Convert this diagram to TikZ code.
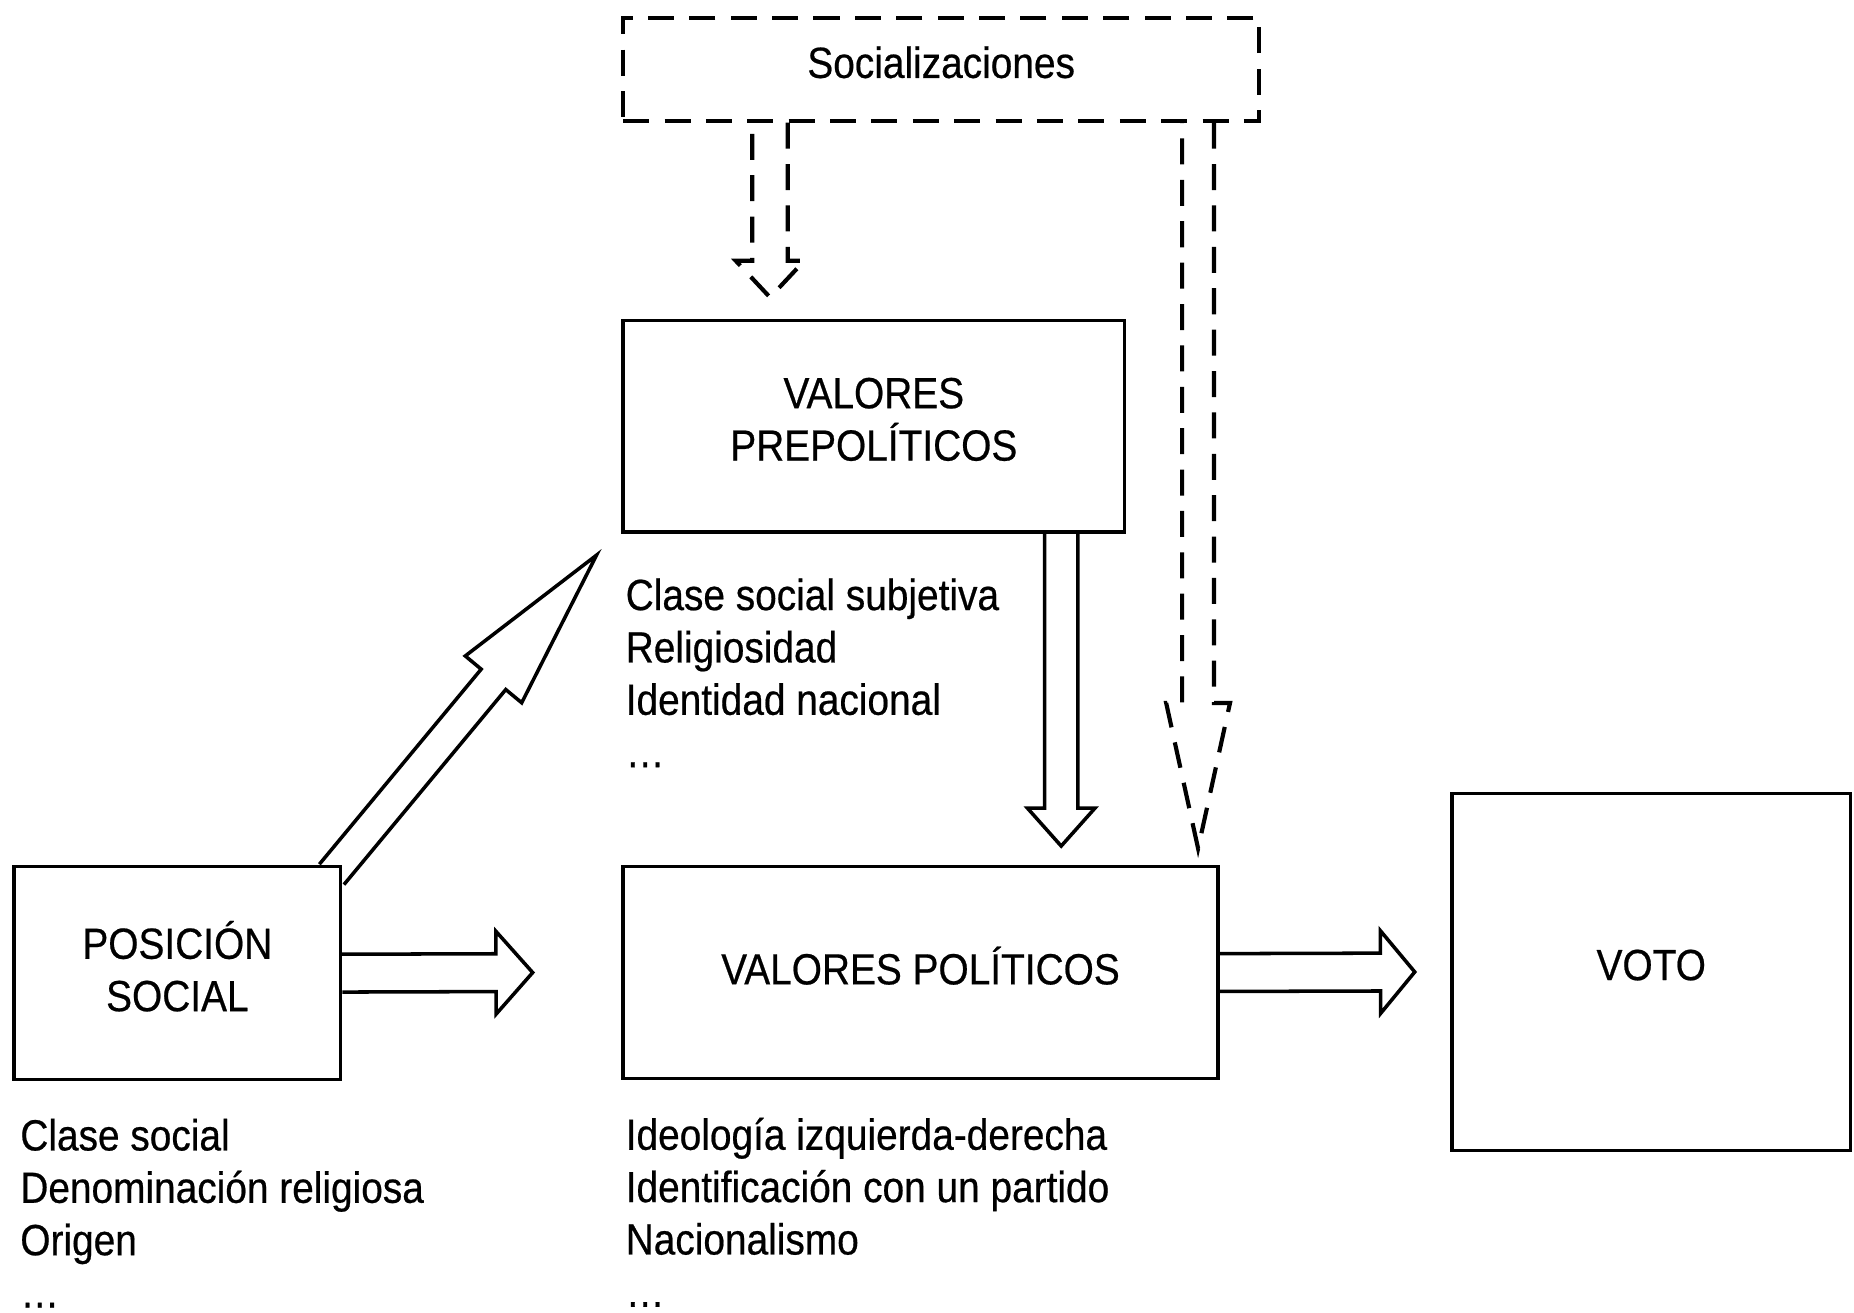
\documentclass[tikz,border=0pt]{standalone}
\usepackage{fontspec}
\setmainfont{Liberation Sans}[FakeStretch=0.89,FakeBold=0.5]
\usetikzlibrary{calc}
\newcommand\fatarrow[6][]{%
  \coordinate (fatbase) at ($(#3)!#6!(#2)$);
  \draw[#1] ($(#2)!#4!90:(#3)$) -- ($(fatbase)!#4!-90:(#2)$) -- ($(fatbase)!#5!-90:(#2)$) -- (#3)
    -- ($(fatbase)!#5!90:(#2)$) -- ($(fatbase)!#4!90:(#2)$) -- ($(#2)!#4!-90:(#3)$);}

\begin{document}
\begin{tikzpicture}[
    font=\fontsize{10.5}{12.6}\selectfont,
    box/.style={draw,line width=.85pt,align=center,inner sep=0pt,text depth=.12cm},
    list/.style={anchor=north west,align=left,inner sep=0pt},
    fat/.style={line width=.85pt,line join=miter},
    fatdash/.style={line width=1pt,dash pattern=on .22cm off .13cm}
  ]
  \useasboundingbox (0,0) rectangle (15.68,-11.10);
  \node[box,fatdash,minimum width=5.38cm,minimum height=.87cm] (soc) at (7.96,-.585) {Socializaciones};
  \node[box,minimum width=4.24cm,minimum height=1.79cm] (pre) at (7.39,-3.605) {VALORES\\PREPOLÍTICOS};
  \node[box,minimum width=2.76cm,minimum height=1.80cm] (pos) at (1.50,-8.23) {POSICIÓN\\SOCIAL};
  \node[box,minimum width=5.03cm,minimum height=1.79cm] (pol) at (7.785,-8.225) {VALORES POLÍTICOS};
  \node[box,minimum width=3.37cm,minimum height=3.02cm] (voto) at (13.965,-8.22) {VOTO};
  \node[list] (prelist) at ($(pre.south west)+(.03,-.37)$) {Clase social subjetiva\\Religiosidad\\Identidad nacional\\\ldots};
  \node[list] (poslist) at ($(pos.south west)+(.06,-.31)$) {Clase social\\Denominación religiosa\\Origen\\\ldots};
  \node[list] (pollist) at ($(pol.south west)+(.03,-.31)$) {Ideología izquierda-derecha\\Identificación con un partido\\Nacionalismo\\\ldots};
  \coordinate (prefoot) at ($(pre.south east)+(-.55,0)$);
  \coordinate (socleft) at ($(soc.south west)+(1.26,0)$);
  \coordinate (socright) at ($(soc.south east)+(-.535,0)$);
  \coordinate (posfoot) at ($(pos.north east)+(-.09,-.08)$);
  \coordinate (poltip) at ($(pol.west)+(-.75,0)$);
  \coordinate (vototip) at ($(voto.west)+(-.30,0)$);
  \coordinate (downtip) at ($(prefoot |- pol.north)+(0,.16)$);
  \coordinate (soclefttip) at ($(socleft |- pre.north)+(0,.18)$);
  \coordinate (socrighttip) at ($(socright |- pol.north)+(0,.14)$);
  \coordinate (pretip) at ($(pre.south west)+(-.21,-.18)$);
  \fatarrow[fat]{pos.east}{poltip}{.16cm}{.35cm}{.31cm}
  \fatarrow[fat]{pol.east}{vototip}{.16cm}{.35cm}{.29cm}
  \fatarrow[fat]{prefoot}{downtip}{.14cm}{.285cm}{.32cm}
  \fatarrow[fat]{posfoot}{pretip}{.135cm}{.31cm}{1.365cm}
  \fatarrow[fatdash]{socleft}{soclefttip}{.15cm}{.29cm}{.31cm}
  \fatarrow[fatdash]{socright}{socrighttip}{.135cm}{.27cm}{1.23cm}
\end{tikzpicture}
\end{document}
